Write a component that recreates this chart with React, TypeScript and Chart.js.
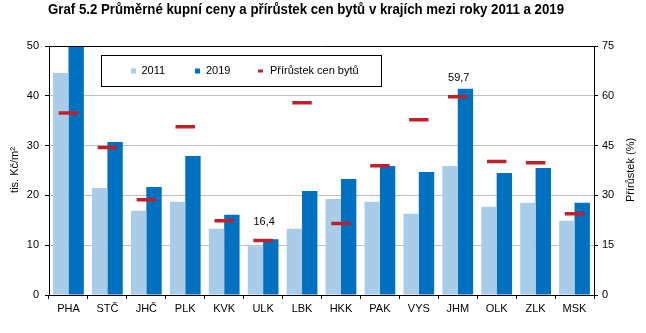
import React, { useEffect, useRef } from "react";
import { Chart, registerables } from "chart.js";

Chart.register(...registerables);

const titleText = "Graf 5.2 Průměrné kupní ceny a přírůstek cen bytů v krajích mezi roky 2011 a 2019";
const categories = ["PHA", "STČ", "JHČ", "PLK", "KVK", "ULK", "LBK", "HKK", "PAK", "VYS", "JHM", "OLK", "ZLK", "MSK"];
const prices2011 = [44.6, 21.5, 16.9, 18.7, 13.3, 9.8, 13.3, 19.3, 18.7, 16.3, 25.9, 17.7, 18.5, 14.9];
const prices2019 = [69.0, 30.7, 21.7, 27.9, 16.1, 11.2, 20.9, 23.3, 25.9, 24.7, 41.4, 24.5, 25.5, 18.5];
const growth = [54.8, 44.4, 28.7, 50.7, 22.4, 16.4, 57.9, 21.5, 38.9, 52.8, 59.7, 40.2, 39.8, 24.5];
const labeledIndices = [5, 10];
const seriesNames = ["2011", "2019", "Přírůstek cen bytů"];
const leftTitle = "tis. Kč/m²";
const rightTitle = "Přírůstek (%)";

const LIGHT = "#a9cde8";
const DARK = "#0070c0";
const RED = "#c0202a";
const FONT = "'Liberation Sans', Arial, sans-serif";

const decorPlugin = {
  id: "decor",
  beforeDraw(chart: any) {
    const ctx = chart.ctx;
    ctx.save();
    ctx.fillStyle = "#fff";
    ctx.fillRect(0, 0, chart.width, chart.height);
    ctx.restore();
  },
  afterDraw(chart: any) {
    const ctx = chart.ctx;
    const area = chart.chartArea;
    ctx.save();
    // top frame
    ctx.strokeStyle = "#000";
    ctx.lineWidth = 1;
    ctx.beginPath();
    ctx.moveTo(Math.round(area.left) - 0.5, Math.round(area.top) + 0.5);
    ctx.lineTo(Math.round(area.right) + 0.5, Math.round(area.top) + 0.5);
    ctx.stroke();

    // title
    ctx.fillStyle = "#000";
    ctx.textBaseline = "middle";
    ctx.textAlign = "left";
    ctx.font = `bold 14px 'Liberation Sans', Arial, sans-serif`;
    const w = ctx.measureText(titleText).width;
    const target = 516;
    ctx.save();
    ctx.translate(48, 10.5);
    ctx.scale(target / w, 1);
    ctx.fillText(titleText, 0, 0);
    ctx.restore();

    // axis titles
    ctx.font = `11px ${FONT}`;
    ctx.textAlign = "center";
    ctx.save();
    ctx.translate(15, 170);
    ctx.rotate(-Math.PI / 2);
    ctx.fillText(leftTitle, 0, 0);
    ctx.restore();
    ctx.save();
    ctx.translate(631, 170);
    ctx.rotate(-Math.PI / 2);
    ctx.fillText(rightTitle, 0, 0);
    ctx.restore();

    // legend box
    ctx.fillStyle = "#fff";
    ctx.fillRect(102, 55, 280, 31);
    ctx.strokeStyle = "#000";
    ctx.strokeRect(101.5, 55.5, 280, 31);
    ctx.font = `11px ${FONT}`;
    ctx.textAlign = "left";
    ctx.textBaseline = "middle";
    const ly = 71;
    ctx.fillStyle = LIGHT;
    ctx.fillRect(131, ly - 2.5, 5, 5);
    ctx.fillStyle = DARK;
    ctx.fillRect(195, ly - 2.5, 5, 5);
    ctx.fillStyle = RED;
    ctx.fillRect(258, ly - 1.5, 5, 3);
    ctx.fillStyle = "#000";
    ctx.fillText(seriesNames[0], 141.5, ly);
    ctx.fillText(seriesNames[1], 206, ly);
    ctx.fillText(seriesNames[2], 270, ly);

    // data labels
    const meta = chart.getDatasetMeta(2);
    ctx.textAlign = "center";
    ctx.font = `11px ${FONT}`;
    labeledIndices.forEach((i) => {
      const pt = meta.data[i];
      if (!pt) return;
      const txt = growth[i].toFixed(1).replace(".", ",");
      ctx.fillText(txt, pt.x + 1, pt.y - 19);
    });
    ctx.restore();
  },
};

export default function App() {
  const ref = useRef<HTMLCanvasElement>(null);
  useEffect(() => {
    if (!ref.current) return;
    Chart.defaults.color = "#000";
    Chart.defaults.font.family = FONT;
    Chart.defaults.font.size = 11;
    const chart = new Chart(ref.current, {
      type: "bar",
      data: {
        labels: categories,
        datasets: [
          {
            type: "bar",
            label: seriesNames[0],
            data: prices2011,
            backgroundColor: LIGHT,
            yAxisID: "y",
            order: 2,
            categoryPercentage: 0.79,
            barPercentage: 1,
          } as any,
          {
            type: "bar",
            label: seriesNames[1],
            data: prices2019,
            backgroundColor: DARK,
            yAxisID: "y",
            order: 2,
            categoryPercentage: 0.79,
            barPercentage: 1,
          } as any,
          {
            type: "line",
            label: seriesNames[2],
            data: growth,
            yAxisID: "y1",
            showLine: false,
            pointStyle: "line",
            pointRadius: 9.7,
            pointHoverRadius: 9.7,
            pointBorderWidth: 3.5,
            borderColor: RED,
            backgroundColor: RED,
            order: 0,
          } as any,
        ],
      },
      options: {
        responsive: false,
        animation: false,
        events: [],
        layout: { padding: { top: 46, left: 0, right: 0, bottom: 0 } },
        plugins: { legend: { display: false }, tooltip: { enabled: false }, title: { display: false } },
        scales: {
          x: {
            grid: { display: true, drawOnChartArea: false, drawTicks: true, tickLength: 4, tickColor: "#000", offset: true },
            border: { color: "#000", width: 1 },
            ticks: { padding: 3, color: "#000", font: { size: 11 }, maxRotation: 0, autoSkip: false },
            afterFit: (s: any) => {
              s.height = 38;
            },
          },
          y: {
            position: "left",
            min: 0,
            max: 50,
            ticks: { stepSize: 10, padding: 6, color: "#000", font: { size: 11 } },
            grid: { color: "#c0c0c0", lineWidth: 1, drawTicks: true, tickLength: 4, tickColor: "#000" },
            border: { color: "#000", width: 1 },
            afterFit: (s: any) => {
              s.width = 49;
            },
          },
          y1: {
            position: "right",
            min: 0,
            max: 75,
            ticks: { stepSize: 15, padding: 4, color: "#000", font: { size: 11 } },
            grid: { drawOnChartArea: false, drawTicks: true, tickLength: 4, tickColor: "#000" },
            border: { color: "#000", width: 1 },
            afterFit: (s: any) => {
              s.width = 52;
            },
          },
        },
      },
      plugins: [decorPlugin],
    } as any);
    return () => chart.destroy();
  }, []);
  return (
    <div style={{ position: "fixed", left: 0, top: 0, width: 646, height: 333 }}>
      <canvas ref={ref} width={646} height={333} style={{ width: 646, height: 333, display: "block" }} />
    </div>
  );
}
